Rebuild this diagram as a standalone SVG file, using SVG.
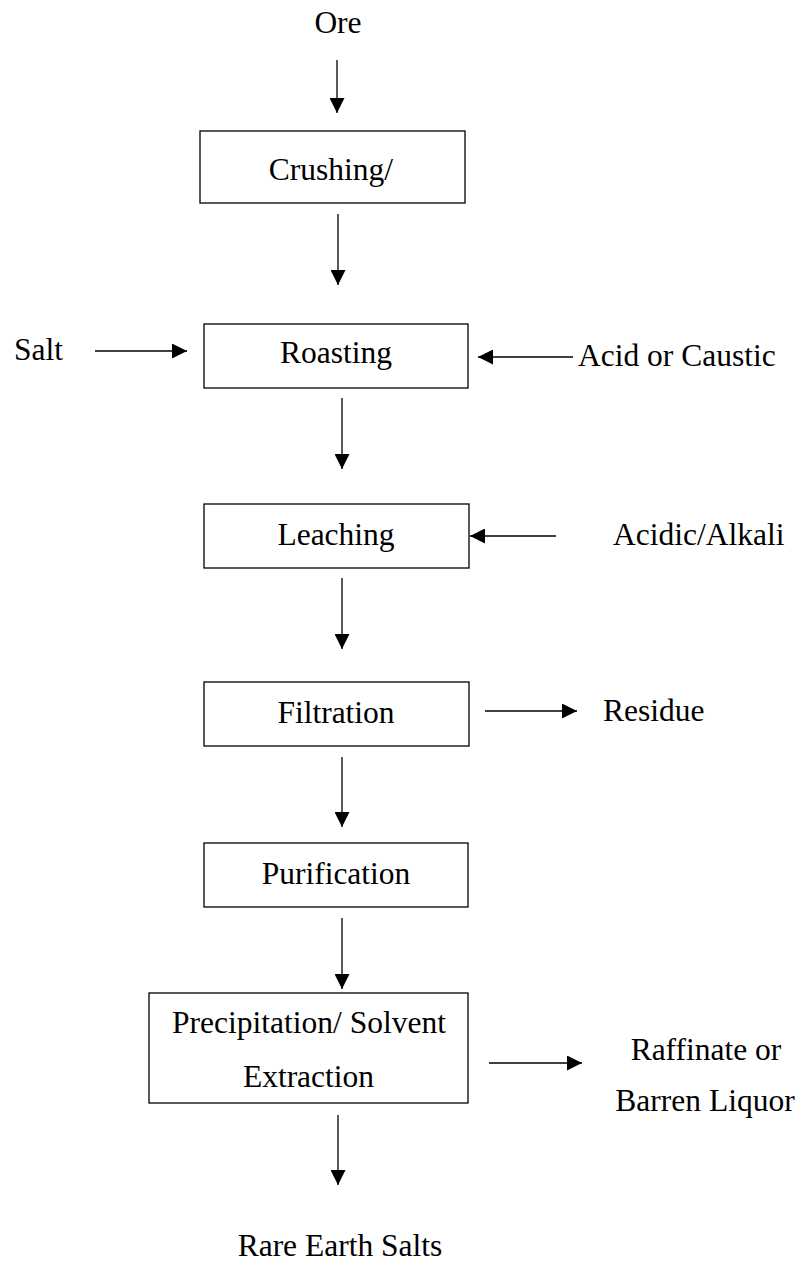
<svg xmlns="http://www.w3.org/2000/svg" width="800" height="1261" viewBox="0 0 800 1261">
<defs>
<style>
.box{fill:#fff;stroke:#000;stroke-width:1.3}
.t{font-family:"Liberation Serif","Times New Roman",serif;font-size:31.5px;fill:#000}
.m{text-anchor:middle}
.c{stroke:#000;stroke-width:1.3;fill:none;marker-end:url(#ah)}
</style>
<marker id="ah" markerUnits="userSpaceOnUse" markerWidth="15" markerHeight="15" refX="15" refY="7.5" orient="auto">
<path d="M0,0 L15,7.5 L0,15 Z" fill="#000"/>
</marker>
</defs>
<rect width="800" height="1261" fill="#fff"/>
<g id="connectors">
<line class="c" x1="337" y1="60" x2="337" y2="113"/>
<line class="c" x1="338" y1="214" x2="338" y2="285"/>
<line class="c" x1="342" y1="398" x2="342" y2="469"/>
<line class="c" x1="342" y1="578" x2="342" y2="649"/>
<line class="c" x1="342" y1="757" x2="342" y2="827"/>
<line class="c" x1="342" y1="918" x2="342" y2="989"/>
<line class="c" x1="338" y1="1115" x2="338" y2="1185"/>
<line class="c" x1="95" y1="351" x2="187" y2="351"/>
<line class="c" x1="573" y1="357" x2="478" y2="357"/>
<line class="c" x1="556" y1="536" x2="470" y2="536"/>
<line class="c" x1="485" y1="711" x2="577" y2="711"/>
<line class="c" x1="489" y1="1063" x2="582" y2="1063"/>
</g>
<g id="ore"><text class="t m" x="338" y="33">Ore</text></g>
<g id="crushing"><rect class="box" x="200" y="131" width="265" height="72"/><text class="t m" x="331" y="180">Crushing/</text></g>
<g id="salt"><text class="t" x="14" y="360">Salt</text></g>
<g id="roasting"><rect class="box" x="204" y="324" width="264" height="64"/><text class="t m" x="336" y="363">Roasting</text></g>
<g id="acid-caustic"><text class="t" x="578" y="366">Acid or Caustic</text></g>
<g id="leaching"><rect class="box" x="204" y="504" width="265" height="64"/><text class="t m" x="336" y="545">Leaching</text></g>
<g id="acidic-alkali"><text class="t" x="613" y="545">Acidic/Alkali</text></g>
<g id="filtration"><rect class="box" x="204" y="682" width="265" height="64"/><text class="t m" x="336" y="723">Filtration</text></g>
<g id="residue"><text class="t" x="603" y="721">Residue</text></g>
<g id="purification"><rect class="box" x="204" y="843" width="264" height="64"/><text class="t m" x="336" y="884">Purification</text></g>
<g id="precipitation"><rect class="box" x="149" y="993" width="319" height="110"/><text class="t m" x="309" y="1033">Precipitation/ Solvent</text><text class="t m" x="308.5" y="1087">Extraction</text></g>
<g id="raffinate"><text class="t m" x="706" y="1060">Raffinate or</text><text class="t m" x="705" y="1111">Barren Liquor</text></g>
<g id="rare-earth-salts"><text class="t m" x="340" y="1256">Rare Earth Salts</text></g>
</svg>
